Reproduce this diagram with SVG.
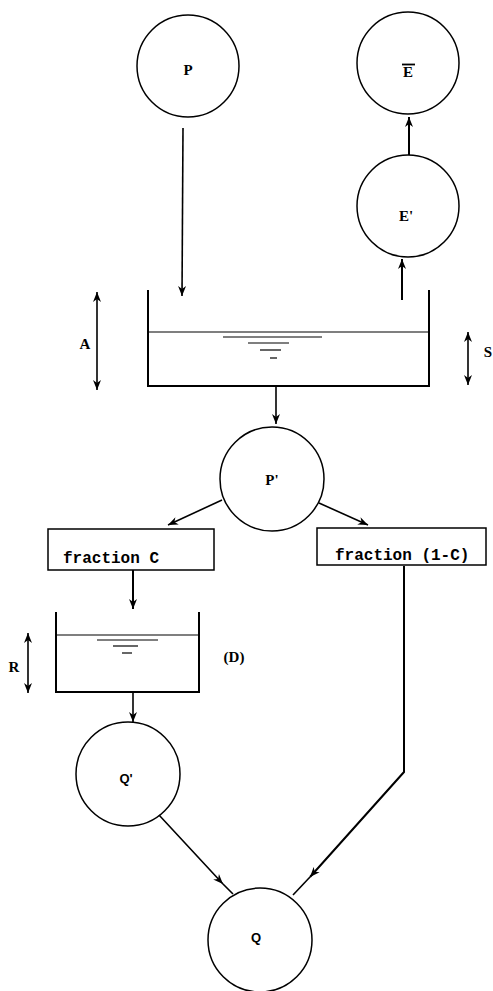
<svg xmlns="http://www.w3.org/2000/svg" width="493" height="991" viewBox="0 0 493 991">
<style>
.n{fill:none;stroke:#000;stroke-width:1.5}
.c{fill:none;stroke:#000;stroke-width:1.6}
.t{fill:none;stroke:#000;stroke-width:2}
.w{fill:none;stroke:#000;stroke-width:1.2}
.lb{font-family:"Liberation Serif",serif;font-weight:bold;font-size:15px;fill:#000}
.ls{font-family:"Liberation Sans",sans-serif;font-weight:bold;font-size:13px;fill:#000}
.tw{font-family:"Liberation Mono",monospace;font-size:16px;fill:#000;font-weight:bold}
</style>
<defs>
<marker id="ah" viewBox="0 0 10 10" refX="10" refY="5" markerWidth="10" markerHeight="10" markerUnits="userSpaceOnUse" orient="auto">
<path d="M0,1 L10,5 L0,9 L3,5 Z" fill="#000"/>
</marker>
<marker id="ah2" viewBox="0 0 10 10" refX="10" refY="5" markerWidth="10" markerHeight="10" markerUnits="userSpaceOnUse" orient="auto-start-reverse">
<path d="M0,1 L10,5 L0,9 L3,5 Z" fill="#000"/>
</marker>
</defs>
<g id="P"><circle class="n" cx="188" cy="66" r="51"/><text class="lb" x="188" y="75" text-anchor="middle">P</text></g>
<g id="Ebar"><circle class="n" cx="408" cy="63" r="51"/><text class="lb" x="408" y="77" text-anchor="middle">E</text><line x1="402" y1="64.5" x2="415" y2="64.5" stroke="#000" stroke-width="1.8"/></g>
<g id="Eprime"><circle class="n" cx="408" cy="206" r="51"/><text class="lb" x="406" y="221" text-anchor="middle">E'</text></g>
<g id="tank1">
<path class="t" d="M148,290 V386 H429 V290"/>
<line class="w" x1="149" y1="332" x2="428" y2="332"/>
<line class="w" x1="223" y1="337" x2="322" y2="337"/>
<line class="w" x1="248" y1="343" x2="289" y2="343"/>
<line class="w" x1="260" y1="350" x2="281" y2="350"/>
<line class="w" x1="270" y1="358" x2="277" y2="358"/>
</g>
<g id="A"><line class="c" x1="97" y1="292" x2="97" y2="390" marker-start="url(#ah2)" marker-end="url(#ah)"/><text class="lb" x="85" y="349" text-anchor="middle">A</text></g>
<g id="S"><line class="c" x1="468" y1="332" x2="468" y2="385" marker-start="url(#ah2)" marker-end="url(#ah)"/><text class="lb" x="488" y="357" text-anchor="middle">S</text></g>
<g id="Pprime"><circle class="n" cx="272" cy="479" r="52"/><text class="lb" x="272" y="485" text-anchor="middle">P'</text></g>
<g id="fracC"><rect class="n" x="48" y="529" width="166" height="41"/><text class="tw" x="63" y="563">fraction C</text></g>
<g id="frac1C"><rect class="n" x="317" y="528" width="169" height="37"/><text class="tw" x="335" y="560">fraction (1-C)</text></g>
<g id="tankD">
<path class="t" d="M56,612 V692 H199 V612"/>
<line class="w" x1="57" y1="635" x2="198" y2="635"/>
<line class="w" x1="97" y1="640" x2="158" y2="640"/>
<line class="w" x1="113" y1="646" x2="138" y2="646"/>
<line class="w" x1="122" y1="653" x2="132" y2="653"/>
</g>
<g id="R"><line class="c" x1="28" y1="633" x2="28" y2="693" marker-start="url(#ah2)" marker-end="url(#ah)"/><text class="lb" x="14" y="672" text-anchor="middle">R</text></g>
<g id="D"><text class="lb" x="234" y="662" text-anchor="middle">(D)</text></g>
<g id="Qprime"><circle class="n" cx="128" cy="774" r="52"/><text class="ls" x="126" y="783" text-anchor="middle">Q'</text></g>
<g id="Q"><circle class="n" cx="260" cy="940" r="52"/><text class="ls" x="256" y="942" text-anchor="middle">Q</text></g>
<g id="connectors">
<line class="c" x1="183" y1="128" x2="182" y2="296" marker-end="url(#ah)"/>
<line class="t" x1="409" y1="155" x2="409" y2="117" marker-end="url(#ah)"/>
<line class="t" x1="402" y1="300" x2="402" y2="259" marker-end="url(#ah)"/>
<line class="c" x1="276" y1="387" x2="276" y2="424" marker-end="url(#ah)"/>
<line class="c" x1="222" y1="500" x2="168" y2="525" marker-end="url(#ah)"/>
<line class="c" x1="319" y1="503" x2="368" y2="525" marker-end="url(#ah)"/>
<line class="t" x1="133" y1="570" x2="133" y2="609" marker-end="url(#ah)"/>
<line class="c" x1="133" y1="692" x2="133" y2="722" marker-end="url(#ah)"/>
<path class="c" d="M159,815 L223,884 L233,894" marker-mid="url(#ah)"/>
<path class="t" d="M404,566 V772 L310,877" marker-end="url(#ah)"/>
<line class="c" x1="310" y1="877" x2="293" y2="895"/>
</g>
</svg>
